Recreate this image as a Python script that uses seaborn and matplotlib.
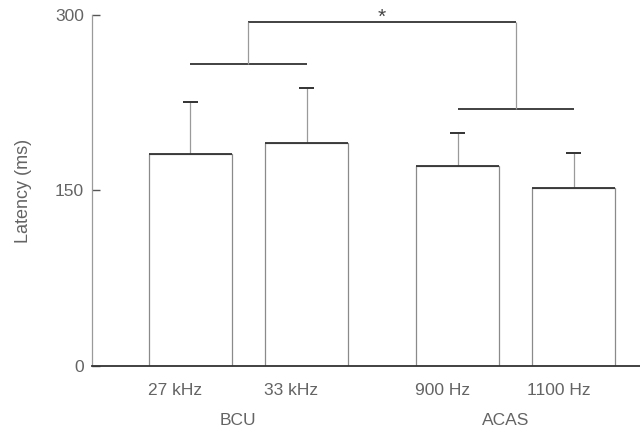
import numpy as np
import pandas as pd
import matplotlib
matplotlib.use("Agg")
import matplotlib.pyplot as plt
import seaborn as sns

# ---- data ----
conditions = ["27 kHz", "33 kHz", "900 Hz", "1100 Hz"]
groups = ["BCU", "BCU", "ACAS", "ACAS"]
group_names = ["BCU", "ACAS"]
latency = [181, 191, 171, 152]
sem = [45, 47, 28, 30]
positions = [0.0, 1.0, 2.3, 3.3]
yticks = [0, 150, 300]
group_line_vals = [258, 220]   # bracket heights for BCU and ACAS pairs
top_bracket_val = 294
star_label = "*"

sns.set_theme(style="white")
plt.rcParams["font.family"] = ["Liberation Sans", "DejaVu Sans"]

text_col = "#646464"
fig = plt.figure(figsize=(6.4, 4.3), dpi=100)
ax = fig.add_axes([0.144, 0.149, 0.856, 0.816])

df = pd.DataFrame({"pos": positions, "latency": latency, "cond": conditions})
width = 0.715
sns.barplot(data=df, x="pos", y="latency", native_scale=True, width=width,
            color="white", edgecolor="#8a8a8a", linewidth=0.9, errorbar=None, ax=ax)

pos = np.array(positions)
vals = np.array(latency)
# darker top edges of bars
ax.hlines(vals, pos - width / 2, pos + width / 2, color="#333333", lw=1.3, zorder=3)

# one-sided error bars
ax.errorbar(pos, vals, yerr=[np.zeros(len(sem)), sem], fmt="none",
            ecolor="#9a9a9a", elinewidth=0.9, capsize=0, zorder=2)
ax.hlines(vals + np.array(sem), pos - 0.065, pos + 0.065, color="#333333", lw=1.4, zorder=3)

# group brackets
g1 = pos[:2]
g2 = pos[2:]
ax.hlines(group_line_vals[0], g1[0], g1[1], color="#333333", lw=1.3, clip_on=False)
ax.hlines(group_line_vals[1], g2[0], g2[1], color="#333333", lw=1.3, clip_on=False)
m1 = g1.mean()
m2 = g2.mean()
ax.hlines(top_bracket_val, m1, m2, color="#333333", lw=1.3, clip_on=False)
ax.vlines(m1, group_line_vals[0], top_bracket_val, color="#9a9a9a", lw=0.9, clip_on=False)
ax.vlines(m2, group_line_vals[1], top_bracket_val, color="#9a9a9a", lw=0.9, clip_on=False)
ax.text((m1 + m2) / 2, top_bracket_val - 1, star_label, ha="center", va="baseline",
        fontsize=15, color="#444444", clip_on=False)

ax.set_xlim(-0.845, 3.87)
ax.set_ylim(0, 300)

# axes styling
for s in ["top", "right"]:
    ax.spines[s].set_visible(False)
ax.spines["left"].set_color("#9a9a9a")
ax.spines["left"].set_linewidth(0.9)
ax.spines["bottom"].set_color("#333333")
ax.spines["bottom"].set_linewidth(1.3)

ax.set_yticks(yticks)
ax.set_yticklabels([str(v) for v in yticks], fontsize=12.5, color=text_col)
ax.tick_params(axis="y", direction="in", length=6, width=1, color="#555555", left=True, pad=6)

ax.set_xticks(pos - 0.13)
ax.set_xticklabels(conditions, fontsize=12.5, color=text_col)
ax.tick_params(axis="x", length=0, pad=12)

ax.set_xlabel("")
ax.set_ylabel("Latency (ms)", fontsize=13, color=text_col, labelpad=16)

# group labels under tick labels
for name, m in zip(group_names, [m1, m2]):
    ax.text(m - 0.09, -0.155, name, transform=ax.get_xaxis_transform(),
            ha="center", va="center", fontsize=12.5, color=text_col)

fig.savefig("out.png", dpi=100)
